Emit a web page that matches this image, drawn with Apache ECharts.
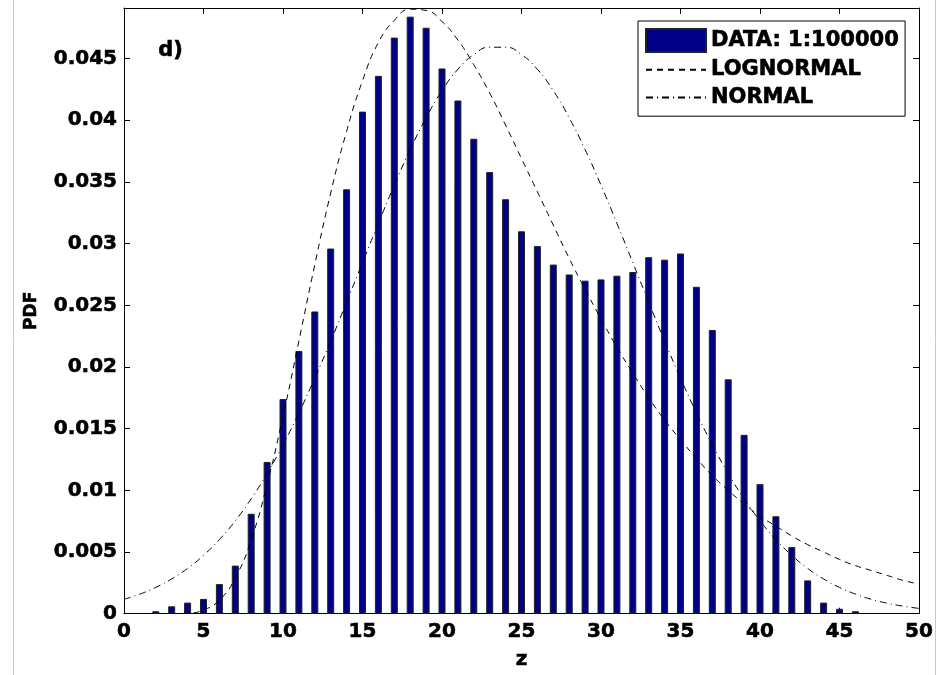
<!DOCTYPE html>
<html>
<head>
<meta charset="utf-8">
<script src="https://cdn.jsdelivr.net/npm/echarts@6/dist/echarts.min.js"></script>
<style>
  html, body { margin: 0; padding: 0; background: #fff; }
  #main { width: 942px; height: 675px; }
</style>
</head>
<body>
<div id="main"></div>
<script>
// histogram bins (z) and their pdf values
const barZ = [2, 3, 4, 5, 6, 7, 8, 9, 10, 11, 12, 13, 14, 15, 16, 17, 18, 19, 20, 21, 22, 23,
  24, 25, 26, 27, 28, 29, 30, 31, 32, 33, 34, 35, 36, 37, 38, 39, 40, 41, 42, 43, 44, 45, 46];
const barPdf = [0.0002, 0.0006, 0.0009, 0.0012, 0.0024, 0.0039, 0.0081, 0.0123, 0.0174, 0.0213,
  0.0245, 0.0296, 0.0344, 0.0407, 0.0436, 0.0467, 0.0484, 0.0475, 0.0442, 0.0416, 0.0385, 0.0358,
  0.0336, 0.0310, 0.0298, 0.0283, 0.0275, 0.0270, 0.0271, 0.0274, 0.0277, 0.0289, 0.0287, 0.0292,
  0.0265, 0.0230, 0.0190, 0.0145, 0.0105, 0.0079, 0.0054, 0.0027, 0.0009, 0.0004, 0.0002];

// fitted curves, read at integer z
const logZ = [3, 4, 5, 6, 7, 8, 9, 10, 11, 12, 13, 14, 15, 16, 17, 18, 19, 20, 21, 22, 23, 24, 25,
  26, 27, 28, 29, 30, 31, 32, 33, 34, 35, 36, 37, 38, 39, 40, 41, 42, 43, 44, 45, 46, 47, 48, 49, 50];
const logPdf = [0.000002, 0.00004, 0.0003, 0.0011, 0.0029, 0.0060, 0.0105, 0.0160, 0.0221, 0.0283,
  0.0341, 0.0391, 0.0432, 0.0463, 0.0481, 0.0490, 0.0489, 0.0480, 0.0465, 0.0445, 0.0422, 0.0396,
  0.0369, 0.0342, 0.0315, 0.0288, 0.0263, 0.0239, 0.0216, 0.0195, 0.0175, 0.0157, 0.0141, 0.0126,
  0.0112, 0.0100, 0.0089, 0.0079, 0.0071, 0.0063, 0.0056, 0.0050, 0.0044, 0.0039, 0.0035, 0.0031,
  0.0027, 0.0024];

const normZ = [0, 1, 2, 3, 4, 5, 6, 7, 8, 9, 10, 11, 12, 13, 14, 15, 16, 17, 18, 19, 20, 21, 22, 23, 24,
  25, 26, 27, 28, 29, 30, 31, 32, 33, 34, 35, 36, 37, 38, 39, 40, 41, 42, 43, 44, 45, 46, 47, 48, 49, 50];
const normPdf = [0.00117, 0.00159, 0.00213, 0.00282, 0.00367, 0.00473, 0.00601, 0.00753, 0.00932,
  0.01137, 0.0137, 0.01628, 0.0191, 0.0221, 0.02525, 0.02846, 0.03165, 0.03474, 0.03762, 0.0402,
  0.0424, 0.04413, 0.04532, 0.04592, 0.04592, 0.04532, 0.04413, 0.0424, 0.0402, 0.03762, 0.03474,
  0.03165, 0.02846, 0.02525, 0.0221, 0.0191, 0.01628, 0.0137, 0.01137, 0.00932, 0.00753, 0.00601,
  0.00473, 0.00367, 0.00282, 0.00213, 0.00159, 0.00117, 0.00085, 0.00061, 0.00043];

const pair = (xs, ys) => xs.map((x, i) => [x, ys[i]]);

const font = "DejaVu Sans";
// heavy bold text, like the original figure
const heavy = { fontFamily: font, fontWeight: "bold", color: "#000", textBorderColor: "#000", textBorderWidth: 0.6 };
const axisLine = { show: true, onZero: false, lineStyle: { color: "#000", width: 1 } };
const tick = { show: true, inside: true, length: 6, lineStyle: { color: "#000" } };
const noMarker = { color: "rgba(0,0,0,0)", borderWidth: 0 };

const chart = echarts.init(document.getElementById("main"));
chart.setOption({
  animation: false,
  grid: { left: 124, right: 23, top: 8, bottom: 59 },
  legend: {
    left: 638,
    top: 21,
    orient: "vertical",
    padding: [7, 6, 8, 7],
    itemWidth: 60,
    itemHeight: 23,
    itemGap: 6,
    borderColor: "#000",
    borderWidth: 1,
    backgroundColor: "#fff",
    textStyle: { ...heavy, fontSize: 21 },
    data: [
      { name: "DATA: 1:100000", icon: "rect" },
      { name: "LOGNORMAL", itemStyle: noMarker },
      { name: "NORMAL", itemStyle: noMarker },
    ],
  },
  xAxis: [
    {
      type: "value",
      min: 0,
      max: 50,
      interval: 5,
      name: "z",
      nameLocation: "middle",
      nameGap: 36,
      nameTextStyle: { ...heavy, fontSize: 20 },
      axisLine: axisLine,
      axisTick: tick,
      splitLine: { show: false },
      axisLabel: { ...heavy, fontSize: 20, margin: 8 },
    },
    {
      type: "value",
      position: "top",
      min: 0,
      max: 50,
      interval: 5,
      axisLine: axisLine,
      axisTick: tick,
      splitLine: { show: false },
      axisLabel: { show: false },
    },
  ],
  yAxis: [
    {
      type: "value",
      min: 0,
      max: 0.0491,
      interval: 0.005,
      name: "PDF",
      nameLocation: "middle",
      nameGap: 84,
      nameTextStyle: { ...heavy, fontSize: 17 },
      axisLine: axisLine,
      axisTick: tick,
      splitLine: { show: false },
      axisLabel: {
        ...heavy,
        fontSize: 20,
        margin: 7,
        showMaxLabel: false,
        formatter: (v) => String(+v.toFixed(3)),
      },
    },
    {
      type: "value",
      position: "right",
      min: 0,
      max: 0.0491,
      interval: 0.005,
      axisLine: axisLine,
      axisTick: tick,
      splitLine: { show: false },
      axisLabel: { show: false },
    },
  ],
  series: [
    {
      name: "DATA: 1:100000",
      type: "bar",
      barWidth: 7,
      data: pair(barZ, barPdf),
      itemStyle: { color: "#000088", borderColor: "#222", borderWidth: 1 },
    },
    {
      name: "LOGNORMAL",
      type: "line",
      symbol: "none",
      smooth: true,
      z: 3,
      data: pair(logZ, logPdf),
      itemStyle: { color: "#000" },
      lineStyle: { color: "#000", width: 1, type: [6, 5] },
    },
    {
      name: "NORMAL",
      type: "line",
      symbol: "none",
      smooth: true,
      z: 3,
      data: pair(normZ, normPdf),
      itemStyle: { color: "#000" },
      lineStyle: { color: "#000", width: 1, type: [7, 4, 1, 4] },
    },
  ],
  graphic: [
    {
      type: "text",
      left: 158,
      top: 40,
      style: { text: "d)", font: "bold 21px 'DejaVu Sans'", fill: "#000", stroke: "#000", lineWidth: 0.6 },
    },
    { type: "line", shape: { x1: 13.5, y1: 0, x2: 13.5, y2: 675 }, style: { stroke: "#c8c8c8", lineWidth: 1 } },
    { type: "line", shape: { x1: 935.5, y1: 0, x2: 935.5, y2: 675 }, style: { stroke: "#c8c8c8", lineWidth: 1 } },
  ],
});
</script>
</body>
</html>
